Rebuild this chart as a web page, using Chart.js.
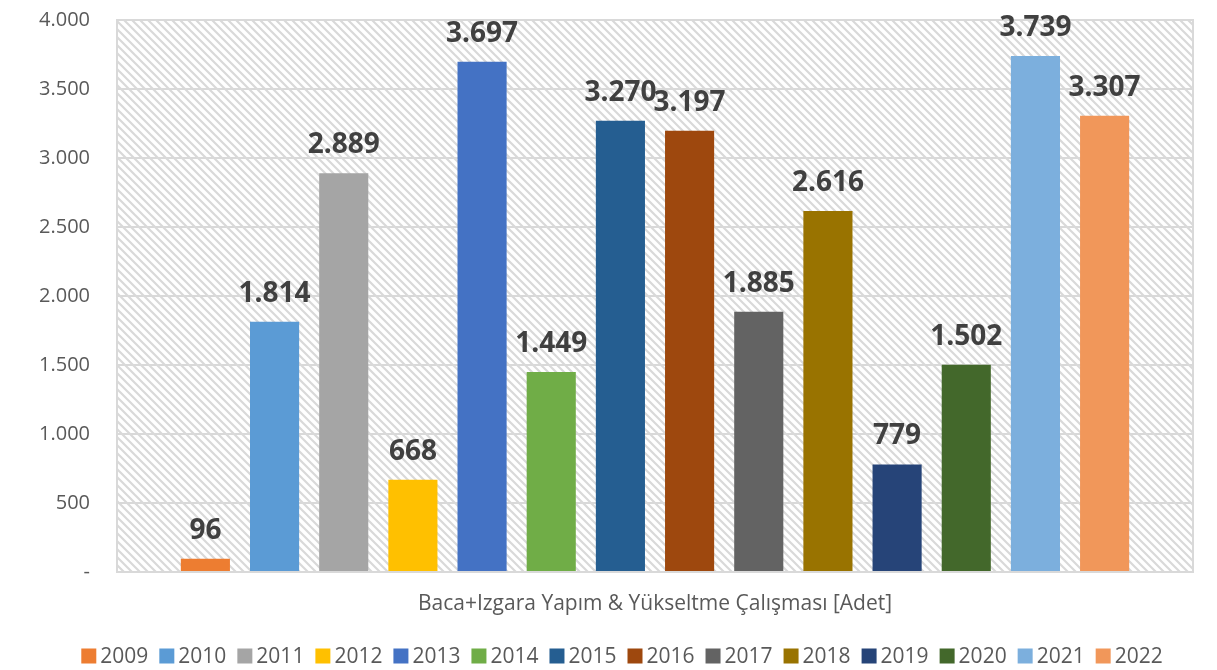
<!DOCTYPE html>
<html>
<head>
<meta charset="utf-8">
<script src="https://cdn.jsdelivr.net/npm/chart.js@4.4.0/dist/chart.umd.min.js"></script>
<style>
html,body{margin:0;padding:0;background:#fff;}
#wrap{width:1217px;height:670px;position:relative;}
</style>
</head>
<body>
<div id="wrap"><canvas id="c" width="1217" height="670"></canvas></div>
<script>
const categories = ["Baca+Izgara Yapım & Yükseltme Çalışması [Adet]"];
const years = ["2009","2010","2011","2012","2013","2014","2015","2016","2017","2018","2019","2020","2021","2022"];
const values = [96,1814,2889,668,3697,1449,3270,3197,1885,2616,779,1502,3739,3307];
const colors = ["#ED7D31","#5B9BD5","#A5A5A5","#FFC000","#4472C4","#70AD47","#255E91","#9E480E","#636363","#997300","#264478","#43682B","#7CAFDD","#F1975A"];
const yTicks = [0,500,1000,1500,2000,2500,3000,3500,4000];

function fmt(v){
  if(v===0) return "-";
  return String(v).replace(/\B(?=(\d{3})+(?!\d))/g, ".");
}

// hatch pattern
const tile = document.createElement('canvas');
tile.width = 8; tile.height = 8;
const tc = tile.getContext('2d');
tc.fillStyle = '#ffffff';
tc.fillRect(0,0,8,8);
tc.strokeStyle = '#d9d9d9';
tc.lineWidth = 2.2;
tc.beginPath();
for(let o=-8;o<=8;o+=8){
  tc.moveTo(o-2,-2); tc.lineTo(o+10,10);
}
tc.stroke();

const bgPlugin = {
  id:'bg',
  beforeDraw(chart){
    const {ctx, chartArea:a} = chart;
    ctx.save();
    ctx.fillStyle = ctx.createPattern(tile,'repeat');
    ctx.fillRect(a.left,a.top,a.right-a.left,a.bottom-a.top);
    ctx.restore();
  },
  afterDatasetsDraw(chart){
    const {ctx, chartArea:a} = chart;
    ctx.save();
    ctx.strokeStyle = '#d9d9d9';
    ctx.lineWidth = 2;
    ctx.strokeRect(a.left,a.top,a.right-a.left,a.bottom-a.top);
    ctx.font = 'bold 28px "Open Sans"';
    ctx.fillStyle = '#404040';
    ctx.textAlign = 'center';
    ctx.textBaseline = 'middle';
    chart.data.datasets.forEach((ds,i)=>{
      const meta = chart.getDatasetMeta(i);
      meta.data.forEach((bar,j)=>{
        ctx.fillText(fmt(ds.data[j]), bar.x, bar.y-28);
      });
    });
    ctx.restore();
  },
  afterDraw(chart){
    // legend
    const ctx = chart.ctx;
    ctx.save();
    ctx.font = '21px "Open Sans"';
    const box = 15, gapBT = 4, gapItem = 11;
    const items = chart.data.datasets.map(ds=>({label:ds.label,color:ds.backgroundColor,w:ctx.measureText(ds.label).width}));
    let total = items.reduce((s,it)=>s+box+gapBT+it.w,0) + gapItem*(items.length-1);
    let x = 622 - total/2;
    const cy = 656;
    ctx.textBaseline = 'middle';
    ctx.textAlign = 'left';
    items.forEach(it=>{
      ctx.fillStyle = it.color;
      ctx.fillRect(x, cy-box/2, box, box);
      x += box + gapBT;
      ctx.fillStyle = '#595959';
      ctx.fillText(it.label, x, cy+1);
      x += it.w + gapItem;
    });
    ctx.restore();
  }
};

const datasets = years.map((y,i)=>({
  label: y,
  data: [values[i]],
  backgroundColor: colors[i],
  borderWidth: 0,
  barPercentage: 0.71,
  categoryPercentage: 0.9
}));

new Chart(document.getElementById('c'), {
  type:'bar',
  data:{ labels: categories, datasets },
  options:{
    responsive:false,
    animation:false,
    devicePixelRatio:1,
    layout:{ padding:{ left:0, right:24, top:0, bottom:0 } },
    plugins:{
      tooltip:{enabled:false},
      legend:{ display:false }
    },
    scales:{
      x:{
        grid:{ display:false, drawTicks:false },
        border:{ display:false },
        ticks:{ color:'#595959', font:{ family:'"Open Sans"', size:21 }, padding:19 },
        afterFit(s){ s.height = 98; s.paddingLeft = 0; s.paddingRight = 0; }
      },
      y:{
        min:0, max:4000,
        afterBuildTicks(s){ s.ticks = yTicks.map(v=>({value:v})); },
        grid:{ color:'#d9d9d9', lineWidth:2, drawTicks:false },
        border:{ display:false },
        ticks:{ color:'#595959', font:{ family:'"Open Sans"', size:20 }, padding:27, callback:(v)=>fmt(v) },
        afterFit(s){ s.width = 117; s.paddingTop = 20; s.paddingBottom = 0; }
      }
    }
  },
  plugins:[bgPlugin]
});
</script>
</body>
</html>
